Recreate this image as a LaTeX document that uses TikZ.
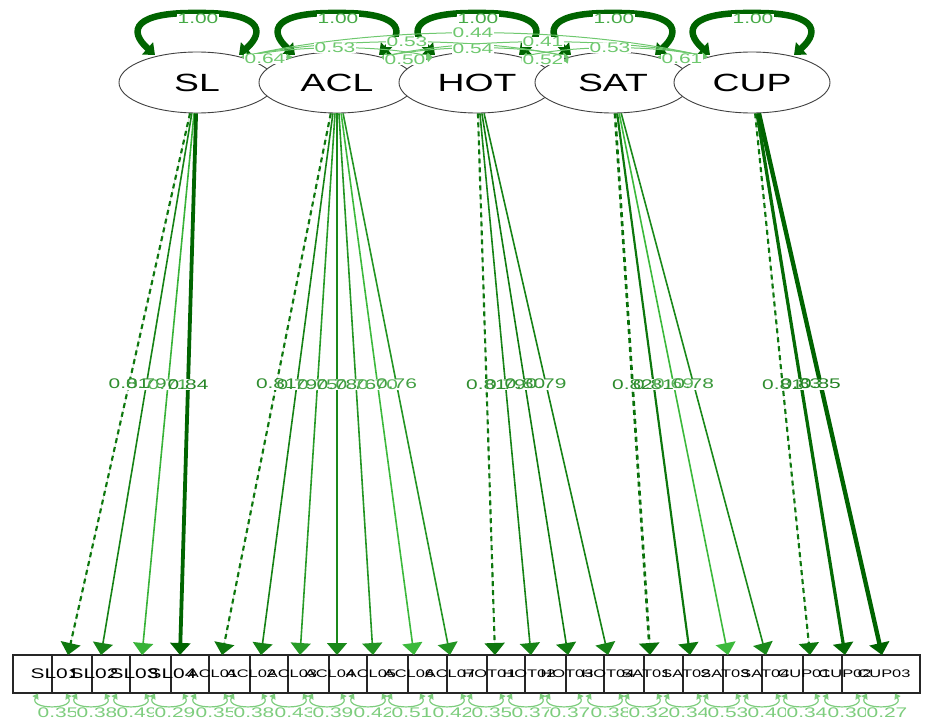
\documentclass[tikz,border=0pt]{standalone}
\usepackage{graphicx}
\usepackage{fontspec}
\setmainfont{Liberation Sans}
\usetikzlibrary{shapes.geometric,arrows.meta}
\definecolor{dkg}{RGB}{0,100,0}
\definecolor{ltg}{RGB}{60,185,60}
\definecolor{labg}{RGB}{90,180,90}
\definecolor{pale}{RGB}{125,205,125}
\definecolor{covc}{RGB}{110,200,110}
\definecolor{varlab}{RGB}{70,170,70}
\newcommand{\hstr}[1]{\scalebox{1.5}[1]{#1}}
\begin{document}
\begin{tikzpicture}[x=1bp,y=-1bp,
  latent/.style={ellipse,draw=black!75,line width=0.9bp,fill=white,minimum width=156bp,minimum height=61bp,inner sep=0pt,font=\fontsize{25}{25}\selectfont},
  manifest/.style={rectangle,draw=black!85,line width=1.3bp,fill=white,minimum width=78bp,minimum height=38bp,inner sep=0pt},
  mtext/.style={inner sep=0pt,font=\fontsize{#1}{#1}\selectfont},
  lbg/.style={fill=white,inner sep=0.5bp,font=\fontsize{14}{14}\selectfont},
  ltext/.style={inner sep=0.5bp,font=\fontsize{14}{14}\selectfont},
  varloop/.style={draw=dkg,line width=6.5bp,{Triangle[length=10bp,width=16bp]}-{Triangle[length=10bp,width=16bp]}},
  varlabel/.style={fill=white,inner sep=0.5bp,text=varlab,font=\fontsize{14}{14}\selectfont},
  cov/.style={draw=covc,line width=1bp,{Triangle[length=6bp,width=6bp]}-{Triangle[length=6bp,width=6bp]}},
  covlab/.style={fill=white,inner sep=0.5bp,text=covc,font=\fontsize{14}{14}\selectfont},
  resid/.style={draw=pale,line width=1.2bp,{Triangle[length=5bp,width=7bp]}-{Triangle[length=5bp,width=7bp]}},
  reslab/.style={fill=white,inner sep=0.3bp,text=pale,font=\fontsize{14}{14}\selectfont},
  loadtip/.style={-{Triangle[length=12bp,width=20bp]}},
  fixedflag/.code={\ifnum#1=1\relax\pgfkeysalso{dash pattern=on 5bp off 4bp}\fi}
]
\useasboundingbox (0,0) rectangle (927,722);

% latent variables
\foreach \n/\x in {SL/197,ACL/337,HOT/477,SAT/613,CUP/752}
  \node[latent] (\n) at (\x,82.5) {\hstr{\n}};

% manifest boxes
\foreach \n/\l in {SL01/13,SL02/52,SL03/92,SL04/130,ACL01/171,ACL02/209,ACL03/250,ACL04/288,ACL05/329,ACL06/367,ACL07/408,HOT01/447,HOT02/487,HOT03/525,HOT04/566,SAT01/604,SAT02/644,SAT03/683,SAT04/723,CUP01/762,CUP02/803,CUP03/842}
  \node[manifest] (\n) at (\l+39,674) {};
\foreach \n in {SL01,SL02,SL03,SL04}
  \node[mtext=14] at ([xshift=3bp]\n.center) {\hstr{\n}};
\foreach \n in {ACL01,ACL02,ACL03,ACL04,ACL05,ACL06,ACL07,HOT01,HOT02,HOT03,HOT04,SAT01,SAT02,SAT03,SAT04,CUP01,CUP02,CUP03}
  \node[mtext=11] at ([xshift=3bp]\n.center) {\hstr{\n}};

% variance loops of latents
\foreach \n/\x in {SL/197,ACL/337,HOT/477,SAT/613,CUP/752}{
  \draw[varloop] (\x-42,55) .. controls (\x-70,30) and (\x-62,12) .. (\x,13)
                 .. controls (\x+62,12) and (\x+70,30) .. (\x+42,55);
  \node[varlabel] (v\n) at (\x+1,19) {\hstr{1.00}};
}

% covariances
\draw[cov] (SL.30) .. controls (244,57) and (290,57) .. (ACL.150);
\draw[cov] (ACL.30) .. controls (384,58) and (430,58) .. (HOT.150);
\draw[cov] (HOT.30) .. controls (522,58) and (568,58) .. (SAT.150);
\draw[cov] (SAT.30) .. controls (660,57) and (705,57) .. (CUP.150);
\draw[cov] (SL.30) .. controls (300,45) and (380,45) .. (HOT.150);
\draw[cov] (ACL.30) .. controls (440,45) and (520,45) .. (SAT.150);
\draw[cov] (HOT.30) .. controls (575,45) and (655,45) .. (CUP.150);
\draw[cov] (SL.30) .. controls (330,37) and (480,37) .. (SAT.150);
\draw[cov] (ACL.30) .. controls (470,37) and (620,37) .. (CUP.150);
\draw[cov] (SL.30) .. controls (380,25) and (570,25) .. (CUP.150);
\foreach \t/\x/\y in {0.64/265/59,0.50/405/60,0.52/543/60,0.61/682/59,0.53/335/48,0.54/473/49,0.53/610/48,0.53/407/42,0.41/543/42,0.44/473/33}
  \node[covlab] at (\x,\y) {\hstr{\t}};

% factor loadings
\foreach \lat/\man/\tx/\v/\d in {SL/SL01/68/0.81/1,SL/SL02/101/0.79/0,SL/SL03/142/0.71/0,SL/SL04/180/0.84/0,
  ACL/ACL01/222/0.81/1,ACL/ACL02/261/0.79/0,ACL/ACL03/300/0.75/0,ACL/ACL04/337/0.78/0,ACL/ACL05/373/0.76/0,ACL/ACL06/414/0.70/0,ACL/ACL07/450/0.76/0,
  HOT/HOT01/495/0.81/1,HOT/HOT02/531/0.79/0,HOT/HOT03/568/0.80/0,HOT/HOT04/608/0.79/0,
  SAT/SAT01/650/0.82/1,SAT/SAT02/690/0.81/0,SAT/SAT03/728/0.69/0,SAT/SAT04/766/0.78/0,
  CUP/CUP01/810/0.81/1,CUP/CUP02/845/0.83/0,CUP/CUP03/882/0.85/0}{
  \pgfmathtruncatemacro\p{max(0,min(100,(\v-0.70)/0.14*100))}
  \pgfmathsetmacro\w{1.6+max(0,\v-0.80)*55}
  \coordinate (t\man) at (\tx,655);
  \draw[loadtip,draw=dkg!\p!ltg,fill=dkg!\p!ltg,line width=\w bp,fixedflag=\d] (\lat) -- coordinate[pos=0.5] (m\man) (t\man);
}
% label backgrounds first, then texts
\foreach \man in {SL01,SL02,SL03,SL04,ACL01,ACL02,ACL03,ACL04,ACL05,ACL06,ACL07,HOT01,HOT02,HOT03,HOT04,SAT01,SAT02,SAT03,SAT04,CUP01,CUP02,CUP03}
  \node[lbg] at (m\man) {\hstr{\phantom{0.00}}};
\foreach \man/\v in {SL01/0.81,SL02/0.79,SL03/0.71,SL04/0.84,ACL01/0.81,ACL02/0.79,ACL03/0.75,ACL04/0.78,ACL05/0.76,ACL06/0.70,ACL07/0.76,HOT01/0.81,HOT02/0.79,HOT03/0.80,HOT04/0.79,SAT01/0.82,SAT02/0.81,SAT03/0.69,SAT04/0.78,CUP01/0.81,CUP02/0.83,CUP03/0.85}{
  \pgfmathtruncatemacro\p{max(0,min(100,(\v-0.70)/0.14*60))}
  \node[ltext,text=dkg!\p!labg] at (m\man) {\hstr{\v}};
}

% residual variances
\foreach \n/\l in {SL01/13,SL02/52,SL03/92,SL04/130,ACL01/171,ACL02/209,ACL03/250,ACL04/288,ACL05/329,ACL06/367,ACL07/408,HOT01/447,HOT02/487,HOT03/525,HOT04/566,SAT01/604,SAT02/644,SAT03/683,SAT04/723,CUP01/762,CUP02/803,CUP03/842}
  \draw[resid] ([xshift=-14bp]\n.south) .. controls (\l+39-24,710) and (\l+39+24,710) .. ([xshift=14bp]\n.south);
\foreach \l/\r in {13/0.35,52/0.38,92/0.49,130/0.29,171/0.35,209/0.38,250/0.43,288/0.39,329/0.42,367/0.51,408/0.42,447/0.35,487/0.37,525/0.37,566/0.38,604/0.32,644/0.34,683/0.53,723/0.40,762/0.34,803/0.30,842/0.27}
  \node[reslab] at (\l+45,713) {\hstr{\r}};
\end{tikzpicture}
\end{document}
